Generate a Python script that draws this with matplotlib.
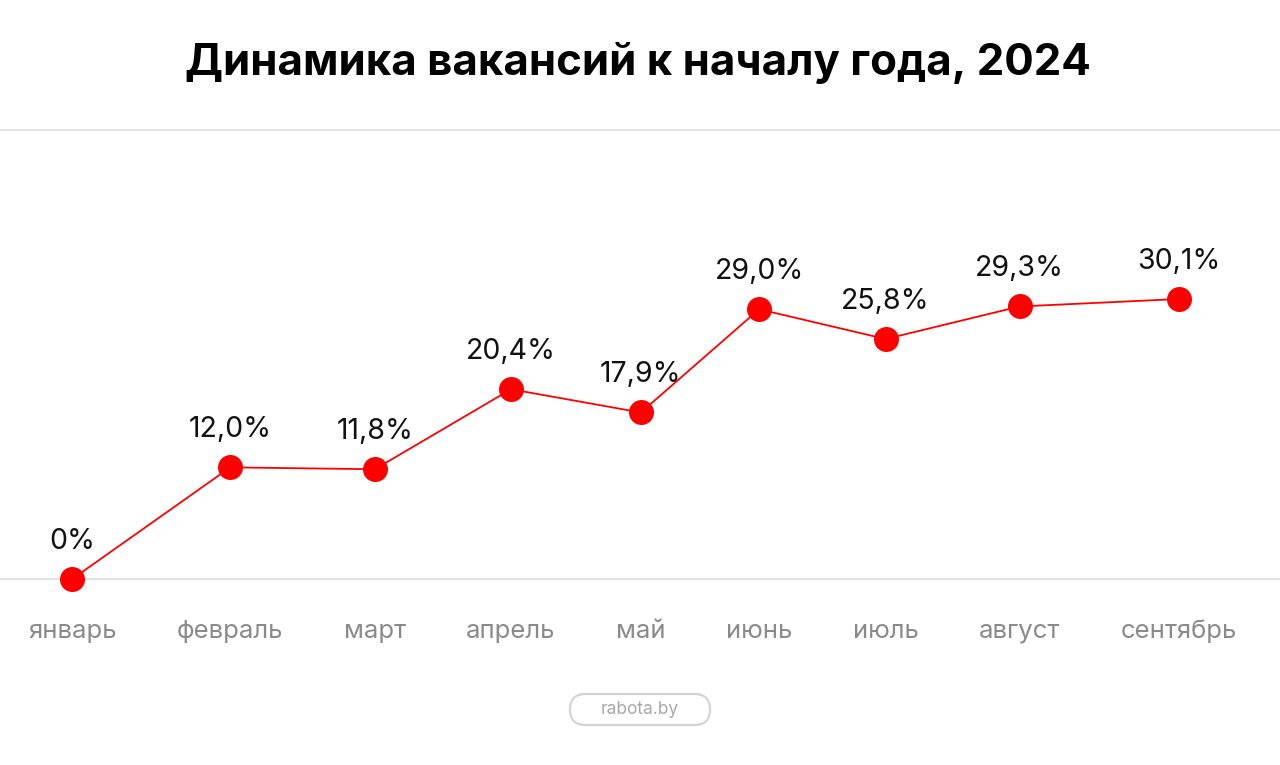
import matplotlib
matplotlib.use('Agg')
import matplotlib.pyplot as plt
from matplotlib.patches import FancyBboxPatch

months = ['январь', 'февраль', 'март', 'апрель', 'май', 'июнь', 'июль', 'август', 'сентябрь']
values = [0.0, 12.0, 11.8, 20.4, 17.9, 29.0, 25.8, 29.3, 30.1]
value_labels = ['0%', '12,0%', '11,8%', '20,4%', '17,9%', '29,0%', '25,8%', '29,3%', '30,1%']
title = 'Динамика вакансий к началу года, 2024'
source = 'rabota.by'

RED = '#ff0000'
plt.rcParams['font.family'] = ['Inter', 'DejaVu Sans']

W, H = 1280, 765
fig = plt.figure(figsize=(W / 100, H / 100), dpi=100)
fig.patch.set_facecolor('white')

# overlay axes in pixel units (from top) for decorations
deco = fig.add_axes([0, 0, 1, 1])
deco.set_xlim(0, W)
deco.set_ylim(H, 0)
deco.axis('off')

ax = fig.add_axes([0, 0, 1, 1])
ax.set_xlim(0, W)
ax.set_ylim(-20.0, 62.25)
ax.axis('off')

# month labels are laid out like a flex row: equal gaps between them
tick_y = -5.6
texts = [ax.text(0, tick_y, m, fontsize=18.5, color='#8a8a8a', ha='left', va='center')
         for m in months]
fig.canvas.draw()
r = fig.canvas.get_renderer()
widths = [t.get_window_extent(r).width for t in texts]
left, right = 28, 1237
gap = (right - left - sum(widths)) / (len(months) - 1)
xs = []
pos = left
for t, w in zip(texts, widths):
    t.set_x(pos)
    xs.append(pos + w / 2)
    pos += w + gap

# separators
deco.axhline(130, color='#e2e2e2', lw=1.2)
ax.axhline(0, color='#dedede', lw=1.2, zorder=1)

ax.plot(xs, values, color=RED, lw=1.3, zorder=2)
ax.plot(xs, values, 'o', color=RED, markersize=18, markeredgewidth=0, zorder=3)

for x, v, lab in zip(xs, values, value_labels):
    ax.annotate(lab, (x, v), xytext=(0, 27), textcoords='offset points',
                ha='center', va='center', fontsize=20.5, color='#111111')

deco.text(638, 63, title, ha='center', va='center',
          fontsize=31.5, fontweight='bold', color='#000000')

# source badge
badge = FancyBboxPatch((570, 694), 140, 31,
                       boxstyle='round,pad=0,rounding_size=15.5',
                       facecolor='white', edgecolor='#d4d4d4', lw=1.6)
deco.add_patch(badge)
deco.text(640, 710, source, ha='center', va='center',
          fontsize=12.5, color='#a8a8a8')

fig.savefig('out.png', dpi=100, facecolor='white')
